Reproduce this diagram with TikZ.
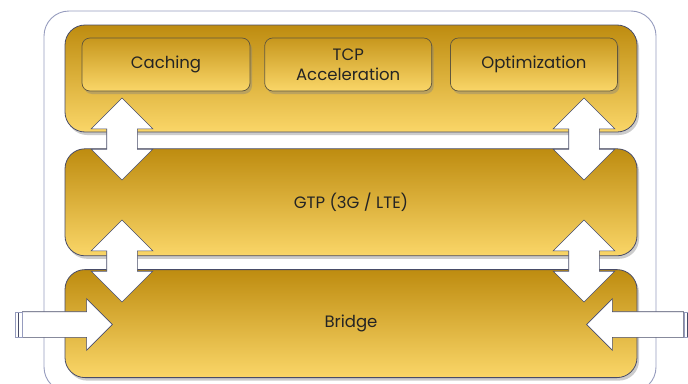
\documentclass[tikz,border=0pt]{standalone}
\usepackage{fontspec}
\setmainfont{Poppins}
\usetikzlibrary{positioning}
\usetikzlibrary{shapes.arrows}
\usetikzlibrary{shadows}
\definecolor{goldtop}{RGB}{190,140,16}
\definecolor{goldbot}{RGB}{250,214,104}
\definecolor{layerline}{RGB}{72,76,104}
\definecolor{boxline}{RGB}{96,86,60}
\definecolor{frameline}{RGB}{150,156,190}
\definecolor{textgray}{RGB}{36,36,36}
\tikzset{%
  layer/.style = {rectangle,rounded corners=20pt,draw=layerline,
        line width=0.8pt,top color=goldtop,bottom color=goldbot,
        minimum width=572pt,minimum height=107pt,
        drop shadow={opacity=0.4,shadow xshift=2pt,shadow yshift=-3pt},
        text=textgray},
  func/.style = {rectangle,rounded corners=8pt,draw=boxline,
        line width=0.7pt,top color=goldtop!85!goldbot,bottom color=goldbot,
        minimum width=167pt,minimum height=53pt,align=center,
        drop shadow={opacity=0.4,shadow xshift=2pt,shadow yshift=-3pt},
        text=textgray},
  updown/.style = {double arrow,rotate=90,draw=layerline,fill=white,
        line width=0.6pt,inner xsep=0pt,inner ysep=15pt,
        double arrow head extend=15.5pt,
        minimum height=82pt,minimum width=61pt},
  sidearrow/.style = {single arrow,draw=layerline,fill=white,
        line width=0.6pt,inner xsep=0pt,inner ysep=12.5pt,
        single arrow head extend=13pt,minimum width=51pt},
  tailcap/.style = {rectangle,draw=frameline,fill=white,line width=0.6pt,
        minimum width=7pt,minimum height=25pt,inner sep=0pt,
        path picture={\draw[layerline,line width=0.8pt]
          (path picture bounding box.north) -- (path picture bounding box.south);}}
}

\begin{document}
\begin{tikzpicture}[x=1pt,y=-1pt,node distance=14pt,
    font=\fontsize{16.5}{20}\selectfont]
   \useasboundingbox (0,0) rectangle (688,383);
   % outer frame
   \node[rectangle,rounded corners=25pt,draw=frameline,line width=0.9pt,
      fill=white,minimum width=612pt,minimum height=381pt] (frame) at (350,201.5) {};

   % layers
   \node[layer] (apps) at (351,78.5) {};
   \node[layer] (gtp) [below=16pt of apps] {GTP (3G / LTE)};
   \node[layer,minimum height=108pt] (bridge) [below=13pt of gtp] {Bridge};

   % functions in the top layer
   \node[func,minimum width=168pt] (cache) at (166,64.5) {Caching};
   \node[func] (tcp) [right=14pt of cache] {TCP\\Acceleration};
   \node[func] (optim) [right=18pt of tcp] {Optimization};

   % arrows between the layers
   \node[updown] (appsL) at (122,139) {};
   \node[updown] (appsR) at (584,139) {};
   \node[updown] (gtpL) at (122,261) {};
   \node[updown] (gtpR) at (584,261) {};

   % traffic in and out of the bridge
   \node[sidearrow,minimum height=90pt] (inL) at (61,324.5) {};
   \node[sidearrow,minimum height=97pt,shape border rotate=180] (inR) at (641.5,324.5) {};
   \node[tailcap] (capL) [left=0pt of inL.tail] {};
   \node[tailcap] (capR) [right=0pt of inR.tail] {};
\end{tikzpicture}
\end{document}
